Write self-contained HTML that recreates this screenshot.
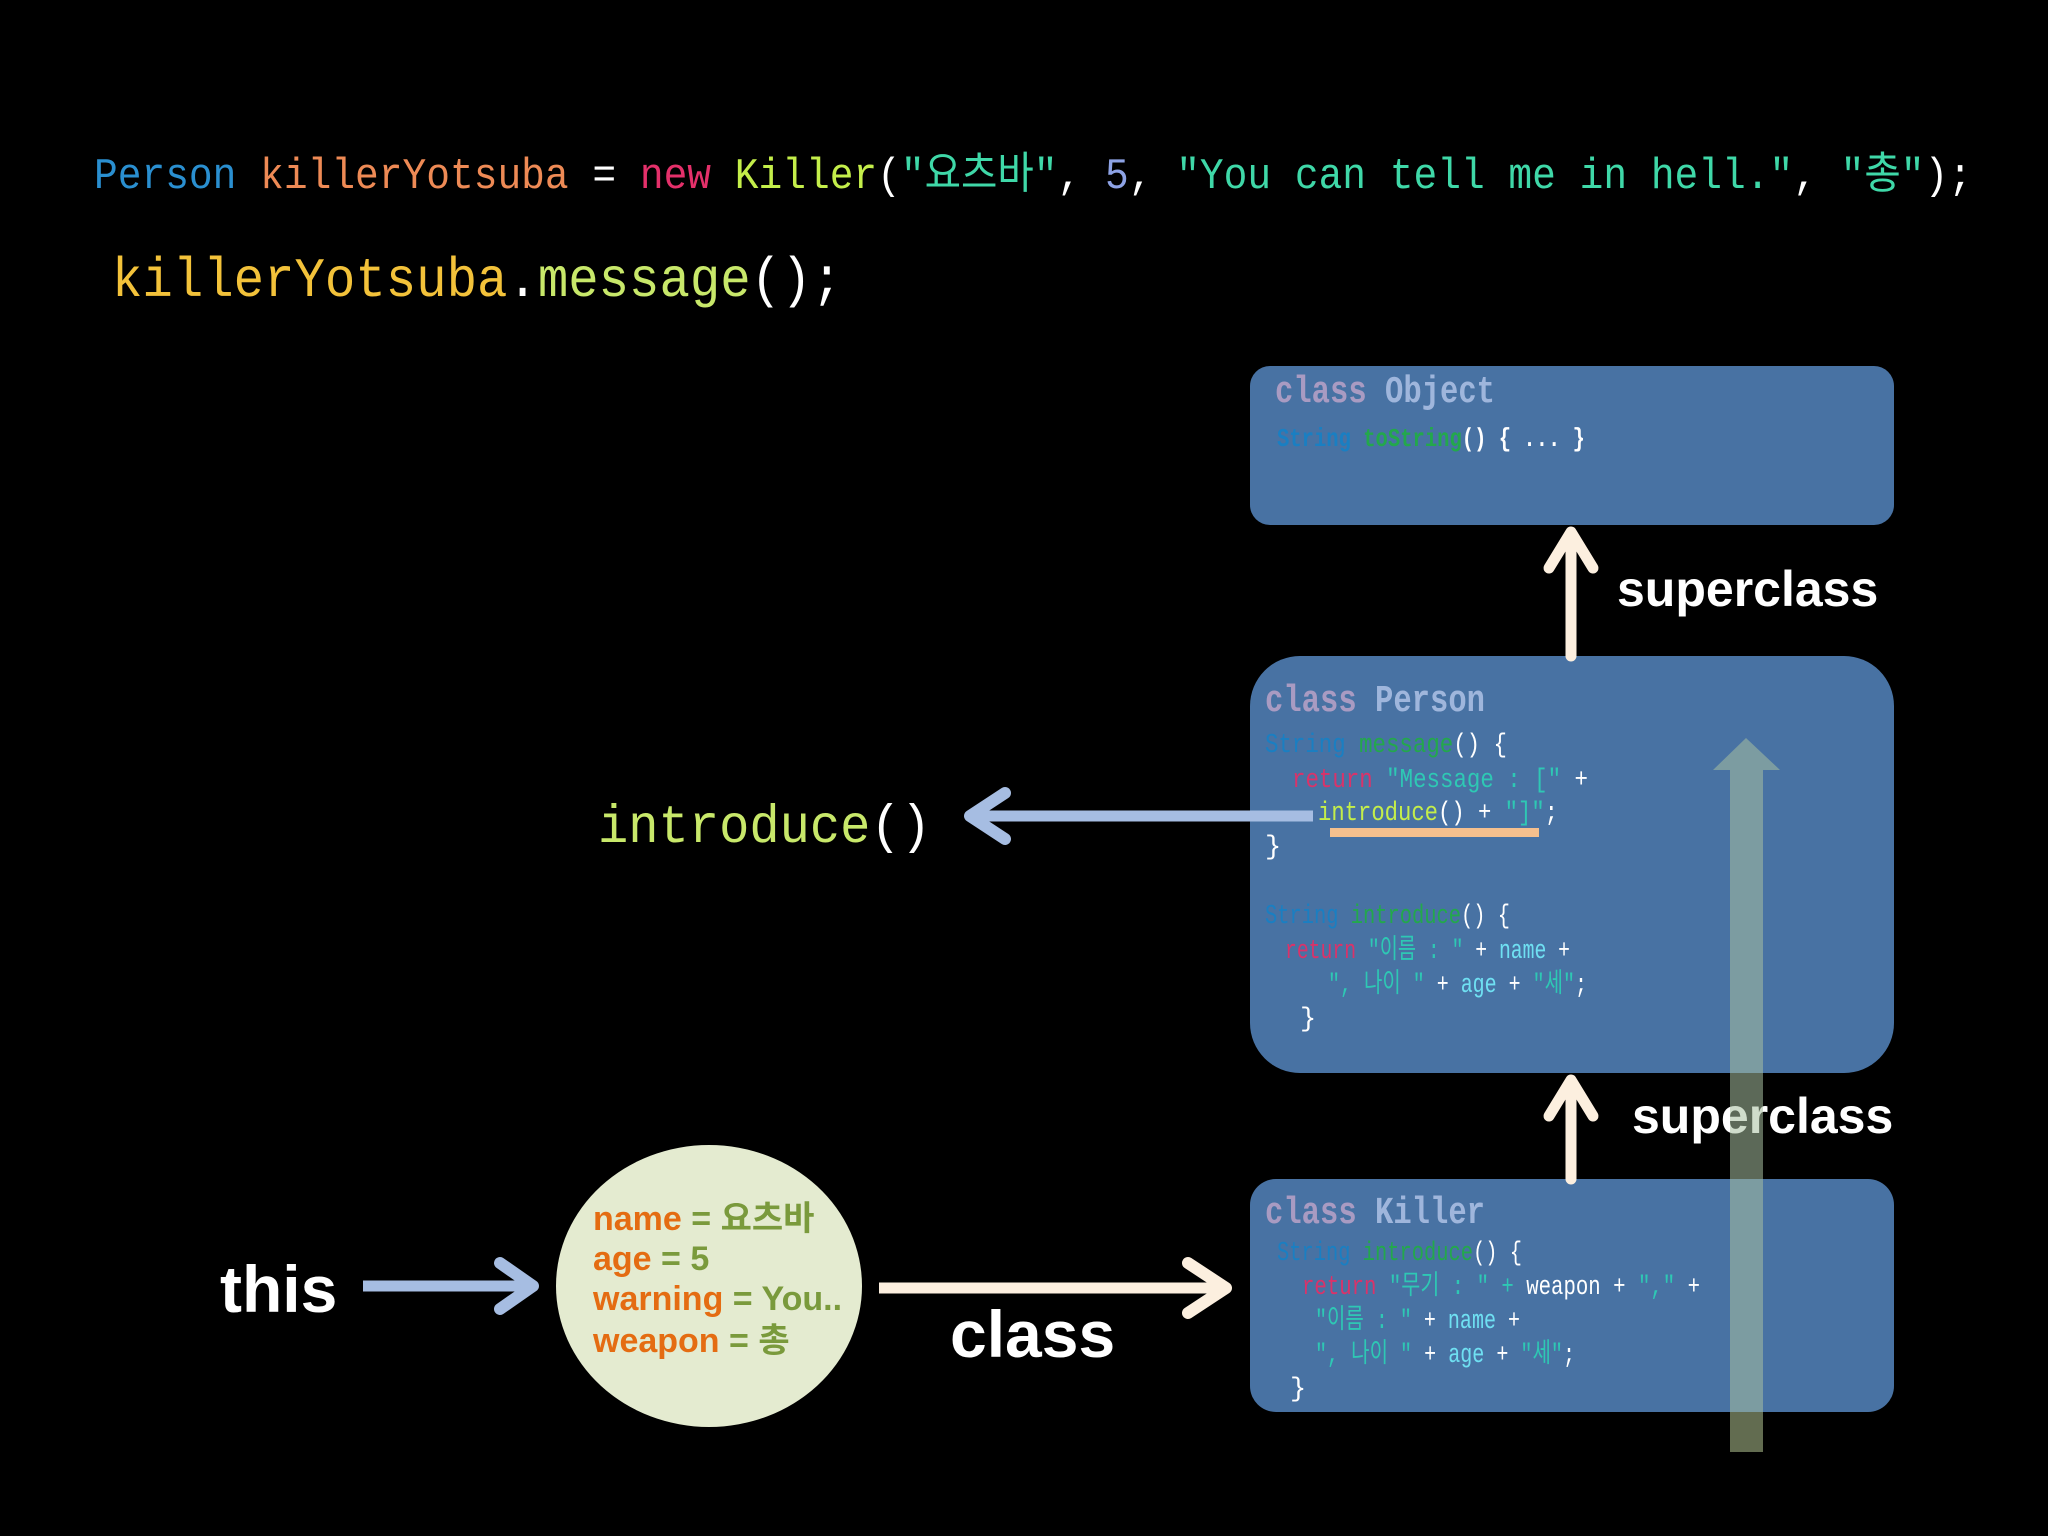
<!DOCTYPE html>
<html><head><meta charset="utf-8"><style>
html,body{margin:0;padding:0;background:#000;width:2048px;height:1536px;overflow:hidden}
svg{display:block}
.m{font-family:"Liberation Mono","Noto Sans CJK KR",monospace}
.s{font-family:"Liberation Sans","Noto Sans CJK KR",sans-serif;font-weight:bold}
</style></head><body>
<svg width="2048" height="1536" viewBox="0 0 2048 1536" xmlns="http://www.w3.org/2000/svg">
<rect width="2048" height="1536" fill="#000"/>

<!-- top code -->
<text class="m" x="94" y="188" font-size="44" textLength="1878" lengthAdjust="spacingAndGlyphs"><tspan fill="#2a8fd0">Person</tspan><tspan fill="#ee8a55"> killerYotsuba</tspan><tspan fill="#fff"> = </tspan><tspan fill="#e4306a">new</tspan><tspan fill="#c4ee4a"> Killer</tspan><tspan fill="#fff">(</tspan><tspan fill="#3fd8a8">"요츠바"</tspan><tspan fill="#fff">, </tspan><tspan fill="#8ea3e6">5</tspan><tspan fill="#fff">, </tspan><tspan fill="#3fd8a8">"You can tell me in hell."</tspan><tspan fill="#fff">, </tspan><tspan fill="#3fd8a8">"총"</tspan><tspan fill="#fff">);</tspan></text>
<text class="m" x="112" y="296" font-size="56" textLength="730" lengthAdjust="spacingAndGlyphs"><tspan fill="#f3c23a">killerYotsuba</tspan><tspan fill="#fff">.</tspan><tspan fill="#c8e86a">message</tspan><tspan fill="#fff">();</tspan></text>

<!-- boxes -->
<rect x="1250" y="366" width="644" height="159" rx="20" fill="#4872a3"/>
<rect x="1250" y="656" width="644" height="417" rx="50" fill="#4872a3"/>
<rect x="1250" y="1179" width="644" height="233" rx="26" fill="#4872a3"/>

<!-- Object -->
<text class="m" x="1275" y="402" font-size="38" font-weight="bold" textLength="220" lengthAdjust="spacingAndGlyphs"><tspan fill="#a99bc2">class</tspan><tspan fill="#9fb6dc"> Object</tspan></text>
<text class="m" x="1277" y="446" font-size="26" font-weight="bold" textLength="308" lengthAdjust="spacingAndGlyphs"><tspan fill="#1a7fc2">String</tspan><tspan fill="#23a84c"> toString</tspan><tspan fill="#fff">() { ... }</tspan></text>

<!-- Person -->
<text class="m" x="1265" y="711" font-size="38" font-weight="bold" textLength="220" lengthAdjust="spacingAndGlyphs"><tspan fill="#a99bc2">class</tspan><tspan fill="#9fb6dc"> Person</tspan></text>
<g class="m" font-size="27">
<text x="1265" y="752" textLength="242" lengthAdjust="spacingAndGlyphs"><tspan fill="#1a7fc2">String</tspan><tspan fill="#23a84c"> message</tspan><tspan fill="#fff">() {</tspan></text>
<text x="1292" y="787" textLength="296" lengthAdjust="spacingAndGlyphs"><tspan fill="#d9336a">return</tspan><tspan fill="#2ec8b4"> "Message : ["</tspan><tspan fill="#fff"> +</tspan></text>
<text x="1318" y="820" textLength="240" lengthAdjust="spacingAndGlyphs"><tspan fill="#c4ee4a">introduce</tspan><tspan fill="#fff">() + </tspan><tspan fill="#2ec8b4">"]"</tspan><tspan fill="#fff">;</tspan></text>
<text x="1265" y="854" fill="#fff">}</text>
<text x="1265" y="923" textLength="245" lengthAdjust="spacingAndGlyphs"><tspan fill="#1a7fc2">String</tspan><tspan fill="#23a84c"> introduce</tspan><tspan fill="#fff">() {</tspan></text>
<text x="1285" y="958" textLength="285" lengthAdjust="spacingAndGlyphs"><tspan fill="#d9336a">return</tspan><tspan fill="#2ec8b4"> "이름 : "</tspan><tspan fill="#fff"> + </tspan><tspan fill="#6fe0f2">name</tspan><tspan fill="#fff"> +</tspan></text>
<text x="1328" y="992" textLength="259" lengthAdjust="spacingAndGlyphs"><tspan fill="#2ec8b4">", 나이 "</tspan><tspan fill="#fff"> + </tspan><tspan fill="#6fe0f2">age</tspan><tspan fill="#fff"> + </tspan><tspan fill="#2ec8b4">"세"</tspan><tspan fill="#fff">;</tspan></text>
<text x="1300" y="1026" fill="#fff">}</text>
</g>
<rect x="1330" y="828" width="209" height="9" fill="#f5c08e"/>

<!-- Killer -->
<text class="m" x="1265" y="1223" font-size="38" font-weight="bold" textLength="220" lengthAdjust="spacingAndGlyphs"><tspan fill="#a99bc2">class</tspan><tspan fill="#9fb6dc"> Killer</tspan></text>
<g class="m" font-size="27">
<text x="1277" y="1260" textLength="245" lengthAdjust="spacingAndGlyphs"><tspan fill="#1a7fc2">String</tspan><tspan fill="#23a84c"> introduce</tspan><tspan fill="#fff">() {</tspan></text>
<text x="1302" y="1294" textLength="398" lengthAdjust="spacingAndGlyphs"><tspan fill="#d9336a">return</tspan><tspan fill="#2ec8b4"> "무기 : " +</tspan><tspan fill="#fff"> weapon + </tspan><tspan fill="#2ec8b4">","</tspan><tspan fill="#fff"> +</tspan></text>
<text x="1315" y="1328" textLength="205" lengthAdjust="spacingAndGlyphs"><tspan fill="#2ec8b4">"이름 : "</tspan><tspan fill="#fff"> + </tspan><tspan fill="#6fe0f2">name</tspan><tspan fill="#fff"> +</tspan></text>
<text x="1315" y="1362" textLength="260" lengthAdjust="spacingAndGlyphs"><tspan fill="#2ec8b4">", 나이 "</tspan><tspan fill="#fff"> + </tspan><tspan fill="#6fe0f2">age</tspan><tspan fill="#fff"> + </tspan><tspan fill="#2ec8b4">"세"</tspan><tspan fill="#fff">;</tspan></text>
<text x="1290" y="1396" fill="#fff">}</text>
</g>

<!-- superclass arrows -->
<g stroke="#fcefdf" stroke-width="11" fill="none" stroke-linecap="round" stroke-linejoin="round">
<line x1="1571" y1="656" x2="1571" y2="535"/>
<polyline points="1549,568 1571,532 1593,568"/>
<line x1="1571" y1="1179" x2="1571" y2="1083"/>
<polyline points="1549,1116 1571,1080 1593,1116"/>
</g>
<text class="s" x="1617" y="606" font-size="50" fill="#fff">superclass</text>
<text class="s" x="1632" y="1133" font-size="50" fill="#fff">superclass</text>

<!-- big translucent arrow -->
<polygon points="1730,1452 1763,1452 1763,770 1780,770 1746,738 1713,770 1730,770" fill="#a8c0a0" fill-opacity="0.55"/>
<rect x="1730" y="1412" width="33" height="40" fill="#626c50"/>

<!-- introduce arrow -->
<line x1="1313" y1="816" x2="972" y2="816" stroke="#a6bde2" stroke-width="11"/>
<polyline points="1005,793 970,816 1005,839" stroke="#a6bde2" stroke-width="12" fill="none" stroke-linecap="round" stroke-linejoin="round"/>
<text class="m" x="598" y="842" font-size="54" textLength="333" lengthAdjust="spacingAndGlyphs"><tspan fill="#c8e86a">introduce</tspan><tspan fill="#fff">()</tspan></text>

<!-- this -->
<text class="s" x="220" y="1312" font-size="66" fill="#fff">this</text>
<line x1="363" y1="1286" x2="530" y2="1286" stroke="#a6bde2" stroke-width="11"/>
<polyline points="500,1263 533,1286 500,1309" stroke="#a6bde2" stroke-width="12" fill="none" stroke-linecap="round" stroke-linejoin="round"/>

<!-- circle -->
<ellipse cx="709" cy="1286" rx="153" ry="141" fill="#e4ebd0"/>
<g class="s" font-size="34">
<text x="593" y="1230"><tspan fill="#e46c12">name</tspan><tspan fill="#7a9a3c"> = 요츠바</tspan></text>
<text x="593" y="1270"><tspan fill="#e46c12">age</tspan><tspan fill="#7a9a3c"> = 5</tspan></text>
<text x="593" y="1310"><tspan fill="#e46c12">warning</tspan><tspan fill="#7a9a3c"> = You..</tspan></text>
<text x="593" y="1352"><tspan fill="#e46c12">weapon</tspan><tspan fill="#7a9a3c"> = 총</tspan></text>
</g>

<!-- class arrow -->
<line x1="879" y1="1288" x2="1225" y2="1288" stroke="#fcefdf" stroke-width="11"/>
<polyline points="1188,1263 1226,1288 1188,1313" stroke="#fcefdf" stroke-width="12" fill="none" stroke-linecap="round" stroke-linejoin="round"/>
<text class="s" x="950" y="1357" font-size="66" fill="#fff">class</text>
</svg>
</body></html>
